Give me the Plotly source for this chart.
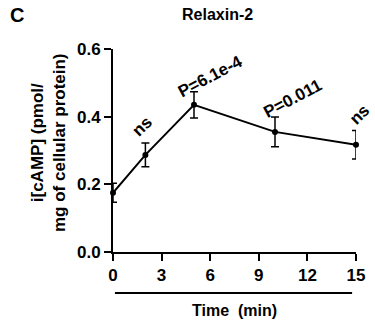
import plotly.graph_objects as go

time_min = [0, 2, 5, 10, 15]
camp = [0.175, 0.287, 0.435, 0.355, 0.317]
sem = [0.028, 0.035, 0.039, 0.044, 0.042]
x_ticks = [0, 3, 6, 9, 12, 15]
y_ticks = [0.0, 0.2, 0.4, 0.6]
y_tick_labels = ["0.0", "0.2", "0.4", "0.6"]
sig_labels = ["ns", "P=6.1e-4", "P=0.011", "ns"]
sig_x = [1.79, 6.0, 11.1, 15.0]
sig_y = [0.372, 0.52, 0.455, 0.405]
sig_angle = [-45, -28, -28, -45]
sig_xshift = [0, 0, 0, 4]

FONT = "Liberation Sans, Arial, sans-serif"
L, T, B, R = 113, 49, 71, 10
PH = 323 - T - B

def bold(size):
    return dict(family=FONT, size=size, color="black", weight="bold")

fig = go.Figure()
fig.add_trace(go.Scatter(
    x=time_min, y=camp, mode="lines+markers",
    line=dict(color="black", width=2),
    marker=dict(color="black", size=6),
    error_y=dict(type="data", array=sem, color="black", thickness=1.5, width=4),
    cliponaxis=False, showlegend=False,
))

for t, xv, yv, ang, xs in zip(sig_labels, sig_x, sig_y, sig_angle, sig_xshift):
    fig.add_annotation(x=xv, y=yv, xref="x", yref="y", text=t, showarrow=False,
                       xanchor="center", yanchor="middle", xshift=xs,
                       textangle=ang, font=bold(17))

# title
fig.add_annotation(x=0, y=1, xref="paper", yref="paper", xanchor="center", yanchor="middle",
                   xshift=217 - L, yshift=T - 14, text="Relaxin-2", showarrow=False, font=bold(16))
# panel letter
fig.add_annotation(x=0, y=1, xref="paper", yref="paper", xanchor="center", yanchor="middle",
                   xshift=17 - L, yshift=T - 15, text="C", showarrow=False, font=bold(20))
# y title
fig.add_annotation(x=0, y=(252 - 143) / PH, xref="paper", yref="paper", xanchor="center", yanchor="middle",
                   xshift=48 - L, text="i[cAMP] (pmol/<br>mg of cellular protein)", showarrow=False,
                   textangle=-90, font=bold(17))
# x title
fig.add_annotation(x=7.5, y=0, xref="x", yref="paper", xanchor="center", yanchor="middle",
                   yshift=-(310 - 252), text="Time  (min)", showarrow=False, font=bold(16))

fig.add_shape(type="line", xref="x", yref="paper", x0=0.12, x1=14.76,
              y0=-(293 - 252) / PH, y1=-(293 - 252) / PH,
              line=dict(color="black", width=2))

fig.update_layout(
    width=375, height=323,
    margin=dict(l=L, r=R, t=T, b=B),
    paper_bgcolor="white", plot_bgcolor="white",
    font=dict(family=FONT, color="black"),
    xaxis=dict(range=[0, 15], tickvals=x_ticks, showline=True, linecolor="black", linewidth=2,
               ticks="outside", ticklen=7, tickwidth=2, tickcolor="black", showgrid=False, zeroline=False,
               tickfont=bold(17)),
    yaxis=dict(range=[0, 0.6], tickvals=y_ticks, ticktext=y_tick_labels, showline=True, linecolor="black",
               linewidth=2, ticks="outside", ticklen=7, tickwidth=2, tickcolor="black", showgrid=False,
               zeroline=False, tickfont=bold(17)),
)

fig.write_html("out.html", config={"displayModeBar": False},
               post_script="document.body.style.margin='0';document.body.style.overflow='hidden';")
